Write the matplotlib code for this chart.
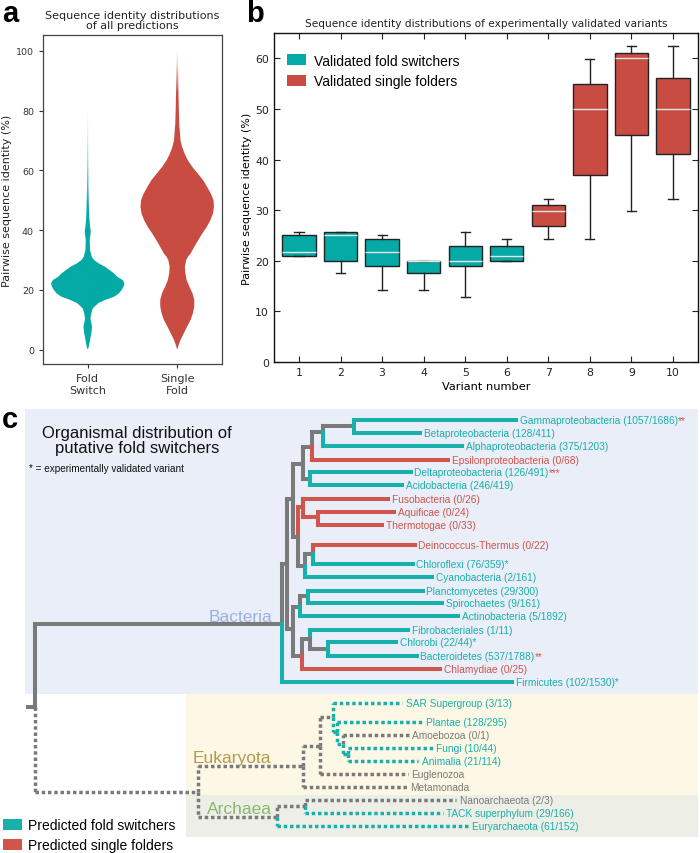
import numpy as np
import matplotlib
matplotlib.use("Agg")
import matplotlib.pyplot as plt
from matplotlib.patches import Rectangle, Patch, Polygon
from matplotlib.colors import to_rgb

# ---------------- Panel a: violin outlines (identity %, half-width) ----------------
fs_y = [0.0, 1.0, 3.3, 5.5, 7.8, 9.5, 10.5, 12.2, 13.8, 14.8, 15.6, 16.7, 17.8, 18.9,
        20.0, 21.1, 22.2, 23.3, 24.4, 25.6, 26.7, 27.8, 28.9, 30.0, 31.1, 33.3, 36.7,
        38.9, 40.0, 41.1, 44.4, 47.8, 53.3, 60.0, 70.0, 80.0, 90.0, 100.0]
fs_w = [0.0, 0.012, 0.026, 0.04, 0.048, 0.035, 0.03, 0.04, 0.056, 0.09, 0.12, 0.2, 0.3, 0.35,
        0.38, 0.40, 0.41, 0.39, 0.33, 0.29, 0.24, 0.19, 0.12, 0.07, 0.045, 0.026, 0.022,
        0.032, 0.033, 0.026, 0.017, 0.013, 0.009, 0.007, 0.005, 0.004, 0.003, 0.0]
sf_y = [0.0, 1.5, 3.3, 5.0, 6.7, 8.3, 10.0, 12.2, 14.4, 16.7, 18.9, 21.1, 23.3, 25.6, 27.8,
        30.0, 31.1, 32.2, 34.4, 36.7, 38.9, 41.1, 43.3, 45.6, 47.8, 50.0, 52.2, 54.4, 56.7,
        58.9, 61.1, 63.3, 65.6, 67.8, 70.0, 75.6, 81.1, 86.7, 92.2, 100.0]
sf_w = [0.0, 0.015, 0.037, 0.065, 0.093, 0.12, 0.15, 0.175, 0.19, 0.19, 0.17, 0.135, 0.105,
        0.09, 0.085, 0.1, 0.12, 0.15, 0.19, 0.235, 0.28, 0.33, 0.37, 0.40, 0.41, 0.405,
        0.376, 0.335, 0.29, 0.23, 0.17, 0.12, 0.082, 0.055, 0.037, 0.022, 0.017, 0.013,
        0.011, 0.006]
violin_labels = ["Fold\nSwitch", "Single\nFold"]

# ---------------- Panel b: box statistics ----------------
variants = [1, 2, 3, 4, 5, 6, 7, 8, 9, 10]
box_q1 = [20.9, 20.0, 18.9, 17.5, 18.9, 20.0, 26.9, 37.0, 44.8, 41.1]
box_med = [21.7, 25.0, 21.7, 20.0, 20.0, 21.0, 29.8, 49.9, 60.0, 50.0]
box_q3 = [25.0, 25.6, 24.3, 20.0, 22.9, 22.9, 31.1, 54.9, 61.1, 56.1]
box_lo = [20.9, 17.5, 14.3, 14.3, 12.8, 20.0, 24.3, 24.3, 29.8, 32.3]
box_hi = [25.6, 25.6, 25.0, 20.0, 25.6, 24.3, 32.3, 59.9, 62.5, 62.5]
box_group = ["fs"] * 6 + ["sf"] * 4

# ---------------- Panel c: tree leaves ----------------
taxa = ["Gammaproteobacteria", "Betaproteobacteria", "Alphaproteobacteria",
        "Epsilonproteobacteria", "Deltaproteobacteria", "Acidobacteria", "Fusobacteria",
        "Aquificae", "Thermotogae", "Deinococcus-Thermus", "Chloroflexi", "Cyanobacteria",
        "Planctomycetes", "Spirochaetes", "Actinobacteria", "Fibrobacteriales", "Chlorobi",
        "Bacteroidetes", "Chlamydiae", "Firmicutes",
        "SAR Supergroup", "Plantae", "Amoebozoa", "Fungi", "Animalia", "Euglenozoa",
        "Metamonada", "Nanoarchaeota", "TACK superphylum", "Euryarchaeota"]
counts = ["1057/1686", "128/411", "375/1203", "0/68", "126/491", "246/419", "0/26", "0/24",
          "0/33", "0/22", "76/359", "2/161", "29/300", "9/161", "5/1892", "1/11", "22/44",
          "537/1788", "0/25", "102/1530",
          "3/13", "128/295", "0/1", "10/44", "21/114", "", "", "2/3", "29/166", "61/152"]
taxa_class = ["fs", "fs", "fs", "sf", "fs", "fs", "sf", "sf", "sf", "sf", "fs", "fs", "fs",
              "fs", "fs", "fs", "fs", "fs", "sf", "fs",
              "fs", "fs", "na", "fs", "fs", "na", "na", "na", "fs", "fs"]
validated = ["**", "", "", "", "***", "", "", "", "", "", "*", "", "", "", "", "", "*",
             "**", "", "*", "", "", "", "", "", "", "", "", "", ""]
validated_class = ["sf", "", "", "", "sf", "", "", "", "", "", "fs", "", "", "", "", "", "fs",
                   "sf", "", "fs", "", "", "", "", "", "", "", "", "", ""]
# layout of the cladogram (figure pixels): tip end and row of each leaf
tip_x = [516, 420, 462, 448, 411, 402, 388, 394, 382, 415, 413, 432, 423, 442, 458, 408,
         396, 417, 440, 512, 402, 422, 409, 433, 418, 408, 407, 456, 443, 469]
row_y = [421, 434, 447, 461, 473, 486, 500, 513, 526, 546, 565, 578, 592, 604, 617, 631,
         643, 657, 670, 683, 704, 723, 736, 749, 762, 775, 788, 801, 814, 827]
# internal nodes: name -> (x, stem y, children, colour class, dotted)
nodes = {
    "root": (35, 708, ["Bact", "EA"], "na", False),
    "Bact": (282, 625, ["Big", "Firmicutes"], "na", False),
    "Big": (287, 565, ["PF", "Low"], "na", False),
    "PF": (293, 500, ["Prot", "FD"], "na", False),
    "Prot": (303, 465, ["GBAE", "DA"], "na", False),
    "GBAE": (312, 448, ["GBA", "Epsilonproteobacteria"], "na", False),
    "GBA": (323, 433, ["GB", "Alphaproteobacteria"], "na", False),
    "GB": (354, 427, ["Gammaproteobacteria", "Betaproteobacteria"], "na", False),
    "DA": (310, 480, ["Deltaproteobacteria", "Acidobacteria"], "na", False),
    "FD": (298, 538, ["FAT", "DCC"], "na", False),
    "FAT": (303, 508, ["Fusobacteria", "AT"], "sf", False),
    "AT": (318, 518, ["Aquificae", "Thermotogae"], "sf", False),
    "DCC": (305, 567, ["DC", "Cyanobacteria"], "na", False),
    "DC": (313, 555, ["Deinococcus-Thermus", "Chloroflexi"], "na", False),
    "Low": (293, 630, ["PSA", "FCBC"], "na", False),
    "PSA": (300, 608, ["PS", "Actinobacteria"], "na", False),
    "PS": (308, 597, ["Planctomycetes", "Spirochaetes"], "na", False),
    "FCBC": (302, 657, ["FCB", "Chlamydiae"], "na", False),
    "FCB": (310, 640, ["Fibrobacteriales", "CB"], "na", False),
    "CB": (328, 650, ["Chlorobi", "Bacteroidetes"], "na", False),
    "EA": (198, 793, ["Euk", "Arch"], "na", True),
    "Euk": (303, 767, ["E2", "Metamonada"], "na", True),
    "E2": (320, 747, ["E3", "Euglenozoa"], "na", True),
    "E3": (333, 718, ["SAR Supergroup", "E4"], "na", True),
    "E4": (337, 733, ["Plantae", "E5"], "fs", True),
    "E5": (343, 745, ["Amoebozoa", "E6"], "fs", True),
    "E6": (348, 755, ["Fungi", "Animalia"], "fs", True),
    "Arch": (277, 818, ["NT", "Euryarchaeota"], "na", True),
    "NT": (305, 807, ["Nanoarchaeota", "TACK superphylum"], "na", True),
}

# ---------------- styling ----------------
TEAL = "#05A9A5"
RED = "#C84C41"
TTEAL = "#17B0AB"
TRED = "#D0554A"
GRAY = "#7A7A7A"
cls_col = {"fs": TTEAL, "sf": TRED, "na": GRAY, "": GRAY}
SANS = ["Liberation Sans", "DejaVu Sans"]
plt.rcParams["font.family"] = ["DejaVu Sans"]

W, H = 700, 854
fig = plt.figure(figsize=(7.0, 8.54), dpi=100)


def ax_rect(l, t, r, b):
    return [l / W, 1 - b / H, (r - l) / W, (b - t) / H]


# ---------- Panel c (full-figure overlay in pixel units) ----------
axc = fig.add_axes([0, 0, 1, 1])
axc.set_xlim(0, W)
axc.set_ylim(H, 0)
axc.set_axis_off()

axc.add_patch(Rectangle((25, 410), 673, 285, facecolor="#E9EEF8", edgecolor="none", zorder=0))
axc.add_patch(Rectangle((186, 695), 512, 101, facecolor="#FDF7E6", edgecolor="none", zorder=0))
axc.add_patch(Rectangle((186, 796), 512, 42, facecolor="#EDEFE7", edgecolor="none", zorder=0))

leaf = {n: i for i, n in enumerate(taxa)}
SOLID_LW = 2.9
DOT_LW = 2.5


def seg(x0, y0, x1, y1, col, dotted):
    if dotted:
        axc.plot([x0, x1], [y0, y1], color=col, lw=DOT_LW, ls=(0, (1.0, 0.8)),
                 dash_capstyle="butt", zorder=2)
    else:
        axc.plot([x0, x1], [y0, y1], color=col, lw=SOLID_LW, solid_capstyle="projecting",
                 zorder=2)


def child_info(c):
    if c in leaf:
        i = leaf[c]
        return tip_x[i], row_y[i], cls_col[taxa_class[i]], None
    x, y, ch, cc, d = nodes[c]
    return x, y, cls_col[cc], c


def draw(name):
    x, y, ch, cc, dotted = nodes[name]
    for c in ch:
        cx, cy, col, sub = child_info(c)
        sub_dot = nodes[sub][4] if sub else dotted
        seg(x, y, x, cy, col, sub_dot)
        seg(x, cy, cx, cy, col, sub_dot)
        if sub:
            draw(sub)


# root stub
seg(28, nodes["root"][1], nodes["root"][0], nodes["root"][1], GRAY, False)
draw("root")

for i, n in enumerate(taxa):
    lab = n + (" (" + counts[i] + ")" if counts[i] else "")
    col = cls_col[taxa_class[i]]
    if validated[i] and validated_class[i] == "fs":
        lab += validated[i]
    t = axc.text(tip_x[i] + 3.5, row_y[i], lab, color=col, fontsize=7.3, family=SANS,
                 va="center", ha="left", zorder=3)
    if validated[i] and validated_class[i] == "sf":
        axc.annotate(validated[i], xy=(1, 1), xycoords=t, va="top", ha="left",
                     color=TRED, fontsize=7.3, family=SANS, zorder=3)

axc.text(240, 618, "Bacteria", color="#9DB0E3", fontsize=12.5, family=SANS,
         ha="center", va="center", zorder=1)
axc.text(232, 759, "Eukaryota", color="#B39A4D", fontsize=12.5, family=SANS,
         ha="center", va="center", zorder=1)
axc.text(239, 810, "Archaea", color="#8BB76B", fontsize=12.5, family=SANS,
         ha="center", va="center", zorder=1)

axc.text(137, 441, "Organismal distribution of\nputative fold switchers", fontsize=12,
         family=SANS, ha="center", va="center", linespacing=1.05, color="#111111")
axc.text(29, 469, "* = experimentally validated variant", fontsize=7.2, family=SANS,
         ha="left", va="center", color="#111111")

# legend of panel c
axc.add_patch(Rectangle((3, 820), 19, 11, facecolor=TTEAL, edgecolor="none"))
axc.add_patch(Rectangle((3, 840), 19, 11, facecolor=TRED, edgecolor="none"))
axc.text(28, 826, "Predicted fold switchers", fontsize=10, family=SANS, va="center")
axc.text(28, 846, "Predicted single folders", fontsize=10, family=SANS, va="center")

# panel letters
for lx, ly, letter in [(2, 14, "a"), (246, 14, "b"), (2, 420, "c")]:
    fig.text(lx / W, 1 - ly / H, letter, fontsize=21, fontweight="bold", family=SANS,
             ha="left", va="center")

# ---------- Panel a ----------
axa = fig.add_axes(ax_rect(43, 36, 222, 365))


def violin(ax, pos, ys, ws, color, f0, f1):
    ys = np.asarray(ys, float)
    ws = np.asarray(ws, float)
    verts = np.column_stack([np.r_[pos - ws, (pos + ws)[::-1]], np.r_[ys, ys[::-1]]])
    poly = Polygon(verts, closed=True, facecolor="none", edgecolor="none")
    ax.add_patch(poly)
    gy = np.linspace(0, 100, 500)
    alpha = np.clip((f1 - gy) / (f1 - f0), 0, 1) ** 1.3
    img = np.zeros((500, 1, 4))
    img[..., :3] = to_rgb(color)
    img[:, 0, 3] = alpha
    im = ax.imshow(img, extent=[pos - 0.5, pos + 0.5, 0, 100], origin="lower",
                   aspect="auto", interpolation="bilinear", zorder=2)
    im.set_clip_path(poly)


violin(axa, 0, fs_y, fs_w, TEAL, 48, 82)
violin(axa, 1, sf_y, sf_w, RED, 86, 101)
axa.set_xlim(-0.5, 1.5)
axa.set_ylim(-4.8, 105.3)
axa.set_xticks([0, 1])
axa.set_xticklabels(violin_labels, fontsize=8, color="#333333")
axa.set_yticks([0, 20, 40, 60, 80, 100])
axa.tick_params(axis="y", labelsize=6.8, colors="#333333", length=3, width=0.8)
axa.tick_params(axis="x", length=3, width=0.8, colors="#333333")
for s in axa.spines.values():
    s.set_color("#444444")
    s.set_linewidth(0.9)
axa.set_ylabel("Pairwise sequence identity (%)", fontsize=8, color="#222222", labelpad=3)
axa.set_title("Sequence identity distributions\nof all predictions", fontsize=8,
              color="#222222", pad=5, linespacing=1.05)

# ---------- Panel b ----------
axb = fig.add_axes(ax_rect(274, 34, 698, 363))
stats = [dict(med=m, q1=a, q3=b, whislo=lo, whishi=hi, fliers=[])
         for m, a, b, lo, hi in zip(box_med, box_q1, box_q3, box_lo, box_hi)]
bp = axb.bxp(stats, positions=variants, widths=0.8, patch_artist=True, showfliers=False,
             boxprops=dict(edgecolor="#222222", linewidth=1.0),
             medianprops=dict(color="#E6E6E6", linewidth=1.0),
             whiskerprops=dict(color="#222222", linewidth=1.0, linestyle="-"),
             capprops=dict(color="#222222", linewidth=1.0), capwidths=0.22)
for patch, g in zip(bp["boxes"], box_group):
    patch.set_facecolor(TEAL if g == "fs" else RED)
axb.set_xlim(0.4, 10.6)
axb.set_ylim(0, 65)
axb.set_xticks(variants)
axb.set_xticklabels([str(v) for v in variants])
axb.set_yticks([0, 10, 20, 30, 40, 50, 60])
axb.tick_params(direction="in", top=True, right=True, length=4, width=0.8, labelsize=7.8,
                colors="#222222")
for s in axb.spines.values():
    s.set_color("#111111")
    s.set_linewidth(1.0)
axb.set_xlabel("Variant number", fontsize=8.2, labelpad=3)
axb.set_ylabel("Pairwise sequence identity (%)", fontsize=8, labelpad=2)
axb.set_title("Sequence identity distributions of experimentally validated variants",
              fontsize=7.6, pad=5, color="#222222")
handles = [Patch(facecolor=TEAL, edgecolor="none"), Patch(facecolor=RED, edgecolor="none")]
axb.legend(handles, ["Validated fold switchers", "Validated single folders"],
           loc="upper left", bbox_to_anchor=(0.0, 0.975), frameon=False,
           prop=dict(family=SANS, size=10), handlelength=1.4, handleheight=0.85,
           handletextpad=0.6, labelspacing=0.45, borderaxespad=0.5)

fig.savefig("out.png", dpi=100)
